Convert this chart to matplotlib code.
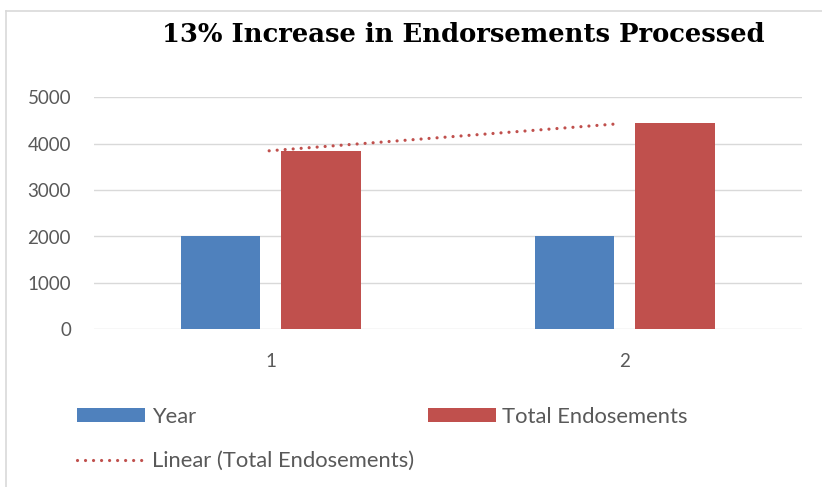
import numpy as np
from matplotlib import pyplot as plt
from matplotlib.lines import Line2D


categories = [1, 2]
year = [2017, 2018]
total_endorsements = [3850, 4440]
yticks = [0, 1000, 2000, 3000, 4000, 5000]

title = '13% Increase in Endorsements Processed'

blue = '#4F81BD'
red = '#C0504D'
grey_text = '#595959'
grid_col = '#D9D9D9'

plt.rcParams['font.family'] = ['Lato', 'DejaVu Sans']

fig = plt.figure(figsize=(8.22, 4.87), dpi=100)
W, H = 822, 487

# chart border (only top and left edges show in the reference)
bx, by = 5.5 / W, 1 - 10.7 / H
fig.add_artist(Line2D([bx, 1.0], [by, by], transform=fig.transFigure,
                      color=grid_col, linewidth=1.2))
fig.add_artist(Line2D([bx, bx], [0.0, by], transform=fig.transFigure,
                      color=grid_col, linewidth=1.2))

ax = fig.add_axes([94 / W, 1 - 329.3 / H, (801.7 - 94) / W, (329.3 - 97.3) / H])

x = np.array(categories, dtype=float)
bw = 0.2246
off = 0.142
ax.bar(x - off, year, bw, color=blue, label='Year', zorder=3)
ax.bar(x + off, total_endorsements, bw, color=red, label='Total Endosements', zorder=3)

# linear trendline through the red series
k, b = np.polyfit(x, total_endorsements, 1)
tx = np.array([0.995, 1.98])
ax.plot(tx, k * tx + b, color=red, linewidth=2.3, linestyle=(0, (0.01, 2.5)),
        dash_capstyle='round', label='Linear (Total Endosements)', zorder=4)

ax.set_xlim(0.5, 2.5)
ax.set_ylim(0, 5000)
ax.set_yticks(yticks)
ax.set_xticks(categories)
ax.set_xticklabels([str(c) for c in categories])
ax.grid(axis='y', color=grid_col, linewidth=1.0, zorder=0)
for s in ax.spines.values():
    s.set_visible(False)
ax.tick_params(axis='both', length=0, labelsize=13.5, labelcolor=grey_text)
ax.tick_params(axis='y', pad=16.5)
ax.tick_params(axis='x', pad=17)

fig.text(463.8 / W, 1 - 34.7 / H, title, ha='center', va='center',
         fontsize=18.6, fontweight='bold', family='DejaVu Serif', color='black')

h, l = ax.get_legend_handles_labels()
order = [1, 0, 2]  # Year, Linear | Total
h = [h[i] for i in order]
l = [l[i] for i in order]
fig.legend(h, l, loc='upper left', bbox_to_anchor=(66 / W, 1 - 396 / H),
           ncol=2, frameon=False, fontsize=15.8, labelcolor=grey_text,
           handlelength=3.1, handleheight=0.6, handletextpad=0.3,
           columnspacing=0.64, labelspacing=1.09, borderpad=0)

fig.savefig('out.png', dpi=100)
